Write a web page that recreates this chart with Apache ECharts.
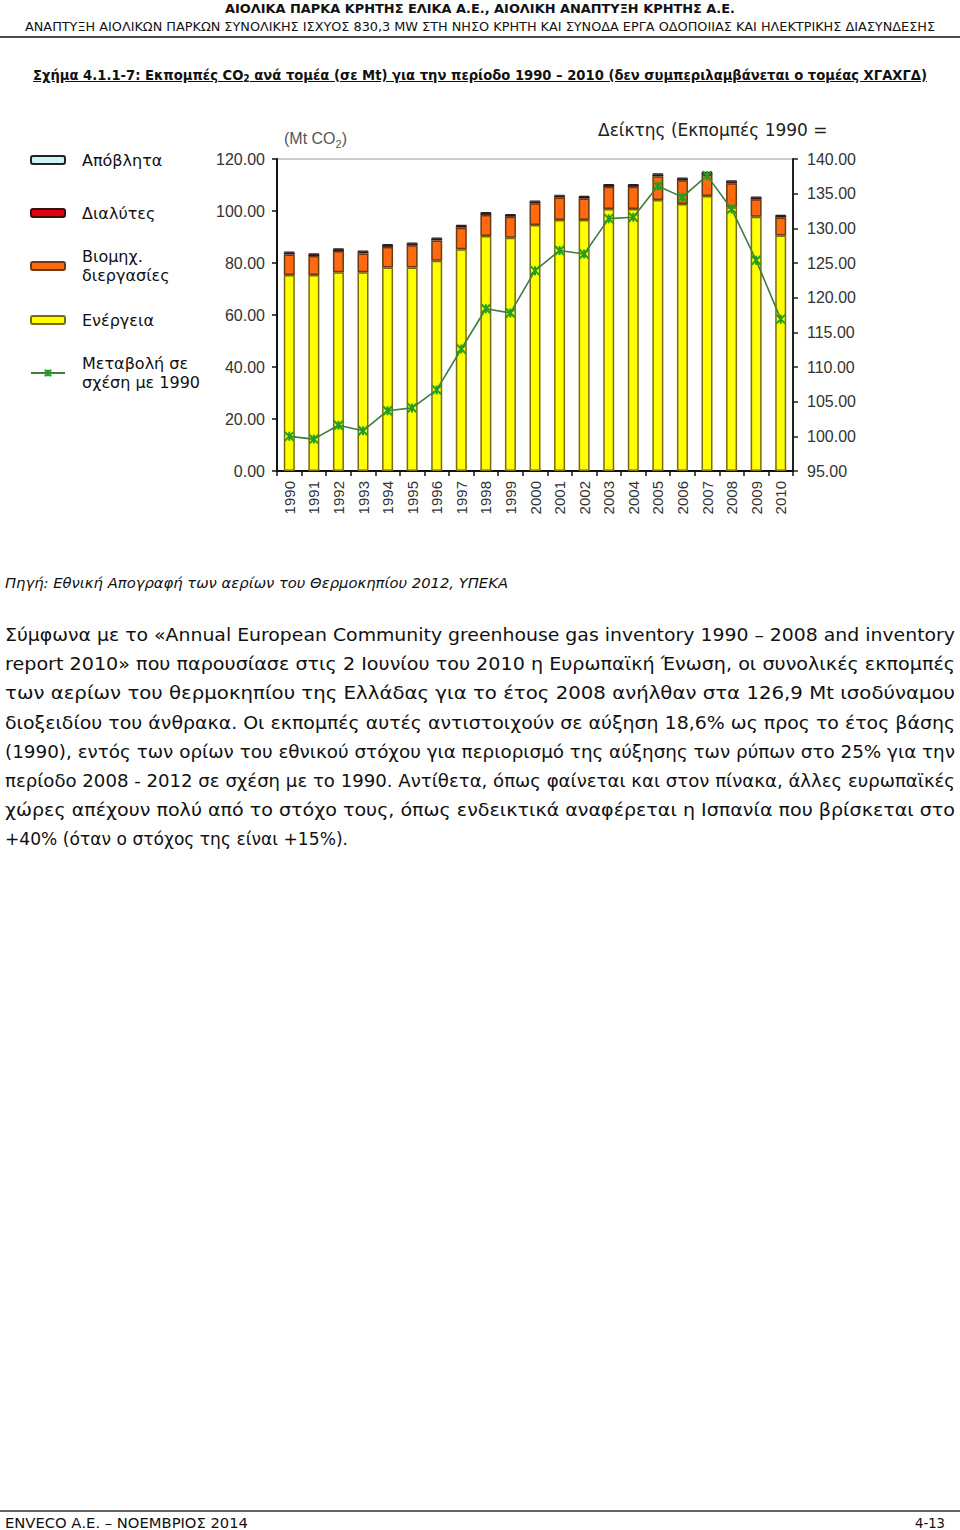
<!DOCTYPE html>
<html>
<head>
<meta charset="utf-8">
<script src="https://cdn.jsdelivr.net/npm/echarts@6/dist/echarts.min.js"></script>
<style>
  html, body { margin: 0; padding: 0; background: #fff; }
  #page { position: relative; width: 960px; height: 1530px; overflow: hidden; background: #fff; color: #111; }
  .t { position: absolute; white-space: nowrap; font-family: "DejaVu Sans", "Liberation Sans", sans-serif; transform-origin: 0 0; }
  .c { font-family: "DejaVu Sans Condensed", "DejaVu Sans", sans-serif; font-stretch: condensed; }
  .rule { position: absolute; left: 0; width: 960px; }
  #chart { position: absolute; left: 0; top: 0; width: 960px; height: 560px; }
  sub { font-size: 70%; vertical-align: -2px; line-height: 0; }
</style>
</head>
<body>
<div id="page">
  <div class="t c fit" data-w="510" style="top:1px;left:225px;font-size:13px;font-weight:bold;line-height:16px;">ΑΙΟΛΙΚΑ ΠΑΡΚΑ ΚΡΗΤΗΣ ΕΛΙΚΑ Α.Ε., ΑΙΟΛΙΚΗ ΑΝΑΠΤΥΞΗ ΚΡΗΤΗΣ Α.Ε.</div>
  <div class="t c fit" data-w="910" style="top:19px;left:25px;font-size:12.5px;line-height:16px;">ΑΝΑΠΤΥΞΗ ΑΙΟΛΙΚΩΝ ΠΑΡΚΩΝ ΣΥΝΟΛΙΚΗΣ ΙΣΧΥΟΣ 830,3 MW ΣΤΗ ΝΗΣΟ ΚΡΗΤΗ ΚΑΙ ΣΥΝΟΔΑ ΕΡΓΑ ΟΔΟΠΟΙΙΑΣ ΚΑΙ ΗΛΕΚΤΡΙΚΗΣ ΔΙΑΣΥΝΔΕΣΗΣ</div>
  <div class="rule" style="top:36px;height:2px;background:#4a4a4a;"></div>
  <div class="t c fit" data-w="894" style="top:66px;left:33px;font-size:14px;font-weight:bold;line-height:18px;text-decoration:underline;">Σχήμα 4.1.1-7: Εκπομπές CO<sub>2</sub> ανά τομέα (σε Mt) για την περίοδο 1990 – 2010 (δεν συμπεριλαμβάνεται ο τομέας ΧΓΑΧΓΔ)</div>

  <div id="chart"></div>

  <div class="t c fit" data-w="503" style="top:574px;left:5px;font-size:14px;font-style:italic;line-height:18px;">Πηγή: Εθνική Απογραφή των αερίων του Θερμοκηπίου 2012, ΥΠΕΚΑ</div>

  <div id="para"></div>

  <div class="rule" style="top:1510px;height:2px;background:#666;"></div>
  <div class="t c fit" data-w="243" style="top:1514px;left:5px;font-size:14px;line-height:18px;">ENVECO Α.Ε. – ΝΟΕΜΒΡΙΟΣ 2014</div>
  <div class="t c fit" data-w="30" style="top:1514px;left:915px;font-size:14px;line-height:18px;">4-13</div>
</div>
<script>
// ---- data ----
const years = ['1990','1991','1992','1993','1994','1995','1996','1997','1998','1999','2000',
               '2001','2002','2003','2004','2005','2006','2007','2008','2009','2010'];
const energy     = [75.4,75.4,76.4,76.4,78.3,78.3,80.9,85.3,90.4,89.7,94.6,96.5,96.5,100.8,100.8,104.2,102.7,105.8,101.4,97.8,90.6];
const industrial = [7.9,7.3,8.2,7.3,7.9,8.5,7.8,8.3,8.1,8.1,8.4,8.7,8.3,8.5,8.5,9.2,9.1,8.2,9.3,6.7,6.9];
const solvents   = [0.7,0.7,0.7,0.7,0.7,0.7,0.7,0.7,0.7,0.7,0.7,0.7,0.7,0.7,0.7,0.7,0.7,0.7,0.7,0.7,0.7];
const waste      = [0.3,0.3,0.3,0.3,0.3,0.3,0.3,0.3,0.3,0.3,0.3,0.3,0.3,0.3,0.3,0.3,0.3,0.3,0.3,0.3,0.3];
const indexVs1990 = [100.0,99.6,101.6,100.8,103.7,104.1,106.7,112.6,118.4,117.8,123.9,126.8,126.3,131.4,131.6,136.1,134.5,137.6,132.8,125.4,116.9];
const leftTicks  = {min: 0, max: 120, interval: 20};
const rightTicks = {min: 95, max: 140, interval: 5};
const paragraphLines = [
  'Σύμφωνα με το «Annual European Community greenhouse gas inventory 1990 – 2008 and inventory',
  'report 2010» που παρουσίασε στις 2 Ιουνίου του 2010 η Ευρωπαϊκή Ένωση, οι συνολικές εκπομπές',
  'των αερίων του θερμοκηπίου της Ελλάδας για το έτος 2008 ανήλθαν στα 126,9 Mt ισοδύναμου',
  'διοξειδίου του άνθρακα. Οι εκπομπές αυτές αντιστοιχούν σε αύξηση 18,6% ως προς το έτος βάσης',
  '(1990), εντός των ορίων του εθνικού στόχου για περιορισμό της αύξησης των ρύπων στο 25% για την',
  'περίοδο 2008 - 2012 σε σχέση με το 1990. Αντίθετα, όπως φαίνεται και στον πίνακα, άλλες ευρωπαϊκές',
  'χώρες απέχουν πολύ από το στόχο τους, όπως ενδεικτικά αναφέρεται η Ισπανία που βρίσκεται στο',
  '+40% (όταν ο στόχος της είναι +15%).'
];

// ---- text fitting ----
function fitTo(el, w) {
  const nat = el.getBoundingClientRect().width;
  const s = w / nat;
  el.style.transform = 'scaleX(' + s + ')';
  return s;
}
document.querySelectorAll('.fit').forEach(el => fitTo(el, +el.dataset.w));

const para = document.getElementById('para');
let scales = [];
paragraphLines.forEach((txt, i) => {
  const d = document.createElement('div');
  d.className = 't';
  d.style.cssText = 'left:5px;font-size:18px;line-height:22px;top:' + (624 + i * 29.2) + 'px;';
  d.textContent = txt;
  para.appendChild(d);
  if (i < paragraphLines.length - 1) {
    scales.push(fitTo(d, 950));
  } else {
    fitTo(d, 343);
  }
});

// ---- chart ----
const chart = echarts.init(document.getElementById('chart'), null, {renderer: 'svg'});
const axisFont = "'Liberation Sans', Arial, sans-serif";
const legFont = "'DejaVu Sans', Verdana, sans-serif";
const starPath = 'path://M0,0L10,10M10,0L0,10M5,0L5,10';
function leg(name, top, padTop) {
  return {
    data: [name], left: 30, top: top, orient: 'vertical', padding: 0,
    itemWidth: 34, itemHeight: 8, selectedMode: false,
    textStyle: {fontFamily: legFont, fontSize: 16, lineHeight: 19, color: '#111', padding: [padTop || 0, 0, 0, 12]}
  };
}
const barBase = {type: 'bar', stack: 'total', barWidth: 11, xAxisIndex: 0, yAxisIndex: 0};
chart.setOption({
  animation: false,
  backgroundColor: 'transparent',
  title: [
    {text: '{a|(Mt CO}{b|2}{a|)}', left: 284, top: 126, padding: 0,
     textStyle: {fontWeight: 'normal', rich: {
       a: {fontFamily: axisFont, fontSize: 16, fontWeight: 'normal', color: '#555', verticalAlign: 'bottom', lineHeight: 20},
       b: {fontFamily: axisFont, fontSize: 11, fontWeight: 'normal', color: '#555', verticalAlign: 'bottom', lineHeight: 14, padding: [0,0,-3,0]}}}},
    {text: 'Δείκτης (Εκπομπές 1990 =', left: 598, top: 121, padding: 0,
     textStyle: {fontFamily: legFont, fontSize: 17, fontWeight: 'normal', color: '#222'}}
  ],
  legend: [
    leg('Απόβλητα', 150.5),
    leg('Διαλύτες', 203.5),
    leg('Βιομηχ.\nδιεργασίες', 247),
    leg('Ενέργεια', 310.5),
    leg('Μεταβολή σε\nσχέση με 1990', 347, 14)
  ],
  grid: {left: 277, right: 167, top: 159, bottom: 89, show: true, borderColor: '#999', borderWidth: 1},
  xAxis: {
    type: 'category', data: years, boundaryGap: true,
    axisLine: {lineStyle: {color: '#111', width: 2}},
    axisTick: {show: true, length: 5, lineStyle: {color: '#111', width: 1.5}},
    axisLabel: {rotate: 90, margin: 10, fontFamily: axisFont, fontSize: 15, color: '#333', interval: 0}
  },
  yAxis: [
    {type: 'value', position: 'left', min: leftTicks.min, max: leftTicks.max, interval: leftTicks.interval,
     splitLine: {show: false},
     axisLine: {show: true, lineStyle: {color: '#111', width: 2}},
     axisTick: {show: true, inside: false, length: 5, lineStyle: {color: '#111', width: 1.5}},
     axisLabel: {formatter: v => v.toFixed(2), margin: 12, fontFamily: axisFont, fontSize: 16, color: '#333'}},
    {type: 'value', position: 'right', min: rightTicks.min, max: rightTicks.max, interval: rightTicks.interval,
     splitLine: {show: false},
     axisLine: {show: true, lineStyle: {color: '#222', width: 2}},
     axisTick: {show: true, inside: false, length: 5, lineStyle: {color: '#222', width: 1.5}},
     axisLabel: {formatter: v => v.toFixed(2), margin: 14, fontFamily: axisFont, fontSize: 16, color: '#333'}}
  ],
  series: [
    Object.assign({}, barBase, {name: 'Ενέργεια', data: energy, legendIcon: 'rect',
      itemStyle: {color: '#FFFF00', borderColor: '#7A6A10', borderWidth: 1.5}}),
    Object.assign({}, barBase, {name: 'Βιομηχ.\nδιεργασίες', data: industrial, legendIcon: 'rect',
      itemStyle: {color: '#FF6A10', borderColor: '#6A3A10', borderWidth: 1.5}}),
    Object.assign({}, barBase, {name: 'Διαλύτες', data: solvents, legendIcon: 'rect',
      itemStyle: {color: '#E00010', borderColor: '#3A1010', borderWidth: 1.2}}),
    Object.assign({}, barBase, {name: 'Απόβλητα', data: waste, legendIcon: 'rect',
      itemStyle: {color: '#CCF4F4', borderColor: '#222', borderWidth: 1.2}}),
    {name: 'Μεταβολή σε\nσχέση με 1990', type: 'line', yAxisIndex: 1, data: indexVs1990, z: 5,
     symbol: starPath, symbolSize: 9,
     lineStyle: {color: '#3E7D3E', width: 1.6},
     itemStyle: {color: 'rgba(0,0,0,0)', borderColor: '#1FA01F', borderWidth: 2}}
  ]
});
</script>
</body>
</html>
